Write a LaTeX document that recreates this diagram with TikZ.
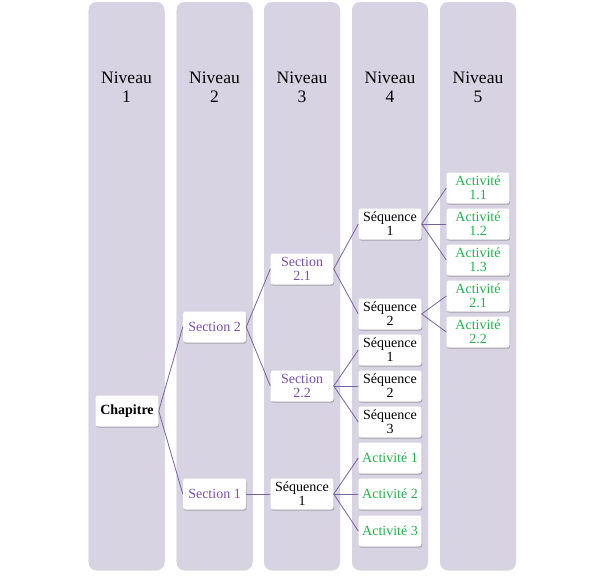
\documentclass[tikz,border=0pt]{standalone}
\usepackage{fontspec}
\setmainfont{Liberation Serif}
\usetikzlibrary{shadows}
\definecolor{colfill}{HTML}{D7D3E3}
\definecolor{secpurple}{HTML}{7B4FAE}
\definecolor{actgreen}{HTML}{22B24C}
\definecolor{linepurple}{HTML}{76639E}
\tikzset{
  colbox/.style={fill=colfill, rounded corners=8pt, minimum width=76pt, minimum height=567pt, inner sep=0pt,
    drop shadow={shadow xshift=0pt, shadow yshift=-1.5pt, fill=black!45, opacity=0.35}},
  lvl/.style={align=center, font=\fontsize{17.5}{19}\selectfont, inner sep=0pt},
  itembox/.style={fill=white, rounded corners=2.5pt, minimum width=63pt, minimum height=31pt, align=center,
    inner sep=0.5pt, font=\fontsize{14}{14}\selectfont,
    drop shadow={shadow xshift=0.6pt, shadow yshift=-1.2pt, fill=black!60, opacity=0.45}},
  sec/.style={itembox, text=secpurple},
  seq/.style={itembox, text=black},
  act/.style={itembox, text=actgreen},
  conn/.style={draw=linepurple, line width=0.8pt}
}
\begin{document}
\begin{tikzpicture}[x=1pt,y=-1pt]
\useasboundingbox (0,0) rectangle (605,576);
% columns
\node[colbox] (c1) at (126.5,285.5) {};
\node[colbox] (c2) at (214.5,285.5) {};
\node[colbox] (c3) at (302,285.5) {};
\node[colbox] (c4) at (390,285.5) {};
\node[colbox] (c5) at (478,285.5) {};
\node[lvl] (n1) at (126.5,87) {Niveau\\1};
\node[lvl] (n2) at (214.5,87) {Niveau\\2};
\node[lvl] (n3) at (302,87) {Niveau\\3};
\node[lvl] (n4) at (390,87) {Niveau\\4};
\node[lvl] (n5) at (478,87) {Niveau\\5};
% nodes
\node[seq, font=\fontsize{14}{14}\selectfont\bfseries] (chap) at (127,411) {Chapitre};
\node[sec] (s2) at (214.5,327) {Section 2};
\node[sec] (s1) at (214.5,494) {Section 1};
\node[sec] (s21) at (302,269) {Section\\2.1};
\node[sec] (s22) at (302,386) {Section\\2.2};
\node[seq] (s1q1) at (302,494) {Séquence\\1};
\node[seq] (a1q1) at (390,224) {Séquence\\1};
\node[seq] (a1q2) at (390,314) {Séquence\\2};
\node[seq] (b1q1) at (390,350) {Séquence\\1};
\node[seq] (b1q2) at (390,386) {Séquence\\2};
\node[seq] (b1q3) at (390,422) {Séquence\\3};
\node[act] (ac1) at (390,458) {Activité 1};
\node[act] (ac2) at (390,494) {Activité 2};
\node[act] (ac3) at (390,531) {Activité 3};
\node[act] (a11) at (478,188) {Activité\\1.1};
\node[act] (a12) at (478,224) {Activité\\1.2};
\node[act] (a13) at (478,260) {Activité\\1.3};
\node[act] (a21) at (478,296) {Activité\\2.1};
\node[act] (a22) at (478,332) {Activité\\2.2};
% connectors
\draw[conn] (chap.east) -- (s2.west);
\draw[conn] (chap.east) -- (s1.west);
\draw[conn] (s2.east) -- (s21.west);
\draw[conn] (s2.east) -- (s22.west);
\draw[conn] (s1.east) -- (s1q1.west);
\draw[conn] (s21.east) -- (a1q1.west);
\draw[conn] (s21.east) -- (a1q2.west);
\draw[conn] (s22.east) -- (b1q1.west);
\draw[conn] (s22.east) -- (b1q2.west);
\draw[conn] (s22.east) -- (b1q3.west);
\draw[conn] (s1q1.east) -- (ac1.west);
\draw[conn] (s1q1.east) -- (ac2.west);
\draw[conn] (s1q1.east) -- (ac3.west);
\draw[conn] (a1q1.east) -- (a11.west);
\draw[conn] (a1q1.east) -- (a12.west);
\draw[conn] (a1q1.east) -- (a13.west);
\draw[conn] (a1q2.east) -- (a21.west);
\draw[conn] (a1q2.east) -- (a22.west);
\end{tikzpicture}
\end{document}
